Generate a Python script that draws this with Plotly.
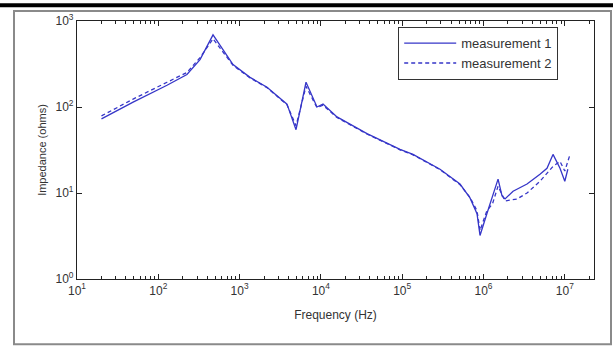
import plotly.graph_objects as go

# ---------------- data ----------------
freq_m1 = [20, 49, 128, 225, 326, 471, 661, 830, 1343, 2173, 3828, 4943, 6561, 8954,
           10616, 15776, 36900, 93970, 135800, 291700, 514000, 682000, 832000, 906000,
           1.10e6, 1.27e6, 1.51e6, 1.69e6, 1.84e6, 2.31e6, 3.43e6, 4.95e6, 6.04e6,
           7.16e6, 8.73e6, 1.00e7, 1.09e7]
imp_m1 = [72.8, 114, 179, 239, 356, 690, 429, 312, 221, 170, 108, 54.4, 194, 100,
          108, 76.7, 49.0, 32.1, 28.1, 18.9, 12.7, 8.77, 5.74, 3.21,
          5.74, 8.77, 14.5, 9.24, 8.53, 10.5, 12.7, 16.5, 19.4,
          28.1, 19.4, 13.7, 18.9]

freq_m2 = [20, 49, 128, 225, 326, 471, 661, 830, 1343, 2173, 3828, 4943, 6561, 8954,
           10616, 15776, 36900, 93970, 135800, 291700, 514000, 682000, 832000, 906000,
           1.10e6, 1.29e6, 1.51e6, 1.84e6, 2.58e6, 3.43e6, 4.95e6, 7.16e6, 8.73e6,
           1.00e7, 1.16e7]
imp_m2 = [78.8, 123.6, 194, 252, 375, 621, 406, 305, 218, 168, 106, 60.5, 174, 98,
          105, 75.5, 48.5, 31.8, 27.8, 18.7, 12.5, 8.9, 6.21, 3.66,
          6.21, 7.48, 12.0, 8.09, 8.5, 10.0, 13.7, 20.4, 23.3,
          18.0, 28.1]

xtick_vals = [1e1, 1e2, 1e3, 1e4, 1e5, 1e6, 1e7]
xtick_text = ["10<sup>1</sup>", "10<sup>2</sup>", "10<sup>3</sup>", "10<sup>4</sup>",
              "10<sup>5</sup>", "10<sup>6</sup>", "10<sup>7</sup>"]
ytick_vals = [1e0, 1e1, 1e2, 1e3]
ytick_text = ["10<sup>0</sup>", "10<sup>1</sup>", "10<sup>2</sup>", "10<sup>3</sup>"]

series_names = ["measurement 1", "measurement 2"]

# ---------------- layout constants ----------------
W, H = 613, 347
PL, PR, PT, PB = 77, 594, 18, 279  # plot area in pixels
LINE_COLOR = "#3636c8"
FONT = "Liberation Sans, Arial, sans-serif"


def px(xp):
    return (xp - PL) / (PR - PL)


def py(yp):
    return (PB - yp) / (PB - PT)


fig = go.Figure()
fig.add_trace(go.Scatter(x=freq_m1, y=imp_m1, mode="lines", name=series_names[0],
                         line=dict(color=LINE_COLOR, width=1.3)))
fig.add_trace(go.Scatter(x=freq_m2, y=imp_m2, mode="lines", name=series_names[1],
                         line=dict(color=LINE_COLOR, width=1.3, dash="4px,3px")))

axis_common = dict(
    type="log", showgrid=False, zeroline=False,
    showline=True, linecolor="#222", linewidth=1.2, mirror="ticks",
    ticks="inside", ticklen=5, tickcolor="#222",
    tickfont=dict(family=FONT, size=12, color="#333"),
)

fig.update_xaxes(
    **axis_common,
    range=[1, 1 + (PR - PL) / 81.3],
    tickvals=xtick_vals, ticktext=xtick_text,
    minor=dict(ticks="inside", ticklen=3, tickcolor="#222", dtick="D1", showgrid=False),
    title=dict(text="Frequency (Hz)", font=dict(family=FONT, size=12, color="#333"),
               standoff=14),
)
fig.update_yaxes(
    **axis_common,
    range=[0, 3],
    tickvals=ytick_vals, ticktext=ytick_text,
    title=dict(text="Impedance (ohms)", font=dict(family=FONT, size=11, color="#333"),
               standoff=6),
)

shapes = [
    # outer grey frame
    dict(type="rect", xref="paper", yref="paper",
         x0=px(14), x1=px(611), y0=py(345), y1=py(8),
         line=dict(color="#8a8a8a", width=2), fillcolor="rgba(0,0,0,0)", layer="below"),
    # black bar at top
    dict(type="rect", xref="paper", yref="paper",
         x0=px(0), x1=px(613), y0=py(4), y1=py(0),
         line=dict(width=0), fillcolor="#000"),
]

fig.update_layout(
    width=W, height=H,
    margin=dict(l=PL, r=W - PR, t=PT, b=H - PB),
    paper_bgcolor="white", plot_bgcolor="white",
    shapes=shapes,
    showlegend=True,
    legend=dict(
        x=px(398), y=py(24), xanchor="left", yanchor="top",
        bgcolor="white", bordercolor="#333", borderwidth=1.2,
        font=dict(family=FONT, size=13, color="#333"),
        itemwidth=52, tracegroupgap=4,
    ),
)

fig.write_html("out.html")
